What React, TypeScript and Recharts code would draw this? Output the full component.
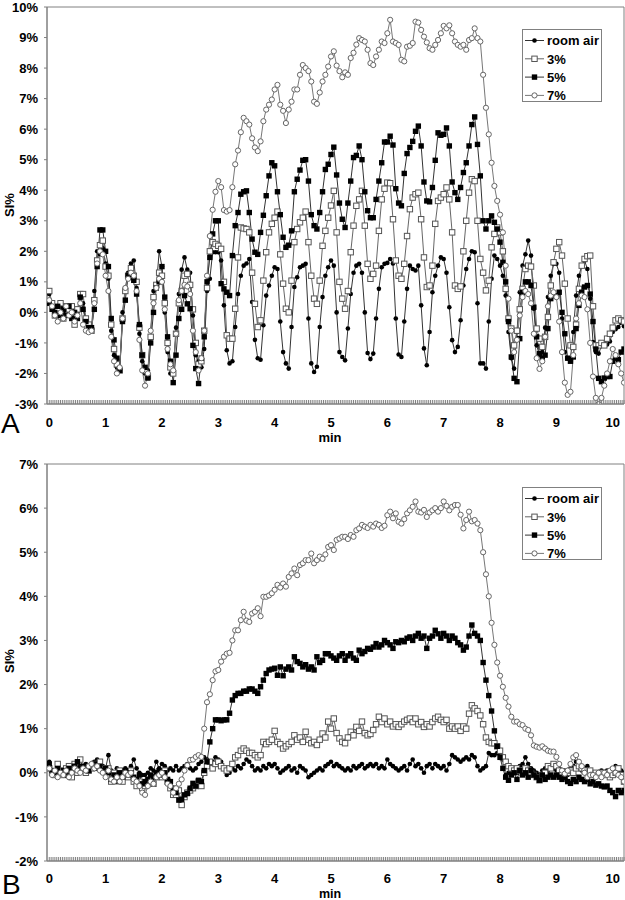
import React from 'react';
import { LineChart, Line, XAxis, YAxis, ReferenceArea } from 'recharts';

// one sample every 3 s
const SAMPLE_MIN = 0.05;

const SERIES_NAMES = ['room air', '3%', '5%', '7%'];
const Y_TICKS_A = [-3, -2, -1, 0, 1, 2, 3, 4, 5, 6, 7, 8, 9, 10];
const Y_TICKS_B = [-2, -1, 0, 1, 2, 3, 4, 5, 6, 7];

// panel A, SI% per sample
const A_ROOM_AIR = [
  0.6, 0.2, 0.1, -0.1, 0.2, 0.0, 0.1, -0.1, 0.1, -0.2,
  0.0, 0.5, 0.3, -0.3, -0.4, -0.5, 0.7, 2.0, 1.9, 2.1,
  1.6, 1.1, -0.6, -1.4, -1.8, -1.9, 0.0, 0.8, 1.3, 1.6,
  1.7, 0.8, -0.7, -1.6, -2.0, -1.9, -0.6, 0.7, 0.8, 2.0,
  1.5, 0.0, -1.3, -2.0, -1.9, -0.5, 0.6, 1.4, 1.8, 1.4,
  1.3, -0.1, -1.4, -1.6, -1.8, -1.2, 0.7, 1.1, 1.97, 1.97,
  1.97, 1.7, 0.23, -1.24, -1.67, -1.6, -0.48, 0.6, 1.2, 1.53,
  1.6, 1.75, 0.34, -0.9, -1.5, -1.55, -0.42, 0.55, 0.88, 1.2,
  1.48, 1.42, -0.3, -1.3, -1.67, -1.84, -0.48, 0.83, 1.15, 1.48,
  1.53, 1.59, -0.2, -1.67, -1.95, -1.78, -0.48, 0.5, 1.2, 1.48,
  1.7, 1.53, 0.0, -1.3, -1.46, -1.57, -0.53, 0.6, 1.3, 1.53,
  1.59, 1.3, 0.0, -1.33, -1.53, -1.35, -0.2, 0.77, 1.48, 1.59,
  1.62, 1.75, 1.6, -0.2, -1.38, -1.46, -0.3, 0.77, 1.53, 1.42,
  1.37, 1.53, 0.23, -1.18, -1.73, -0.64, 0.66, 1.2, 1.53, 1.8,
  1.75, 1.3, 0.17, -0.91, -1.3, -1.13, -0.26, 0.88, 1.42, 1.75,
  2.0, 1.97, 0.3, -1.67, -1.67, -1.84, -0.3, 1.1, 1.86, 1.75,
  1.53, 1.2, 0.55, -0.64, -1.5, -1.84, -0.64, 0.66, 1.53, 1.9,
  2.35, 1.86, 0.12, -1.08, -1.4, -1.3, -0.5, 0.5, 1.2, 1.59,
  1.59, 1.3, -0.2, -1.3, -1.5, -1.5, -0.64, 0.55, 1.2, 1.53,
  1.7, 1.42, 0.45, -0.97, -1.3, -1.35, -1.1, -1.0, -1.05, -0.95,
  -0.64, -0.55, -0.48, -0.35, -0.45,
];
const A_O2_3 = [
  0.7, 0.3, -0.1, 0.1, 0.3, -0.2, 0.2, 0.1, 0.2, -0.4,
  0.1, 0.6, 0.6, -0.2, -0.4, -0.6, 0.4, 1.7, 2.2, 2.35,
  1.5, 1.2, -0.4, -1.2, -1.7, -1.9, -0.2, 0.7, 1.2, 1.45,
  1.2, 1.0, -0.5, -1.4, -1.9, -2.1, -0.8, 0.5, 0.9, 1.3,
  1.2, 0.3, -1.0, -1.8, -2.0, -0.7, 0.3, 0.7, 1.2, 1.26,
  0.9, 0.1, -1.0, -1.7, -1.6, -0.6, 0.8, 2.0, 2.3, 2.24,
  2.18, 2.08, 1.0, -0.75, -0.86, -0.86, 0.12, 1.8, 2.78, 2.75,
  2.73, 2.62, 1.3, 0.28, -0.48, -0.26, 1.04, 1.97, 2.62, 2.9,
  3.1, 3.3, 1.9, 0.94, 0.12, 0.0, 1.04, 2.3, 2.73, 2.95,
  3.1, 3.3, 2.3, 1.2, 0.45, 0.28, 1.04, 2.18, 2.67, 3.1,
  3.5, 3.98, 2.62, 1.0, 0.45, 0.12, 0.7, 1.97, 2.84, 3.49,
  3.7, 3.98, 2.84, 1.59, 1.1, 1.26, 1.53, 2.67, 3.7, 4.05,
  4.25, 4.23, 3.05, 1.7, 1.2, 1.1, 1.59, 2.5, 3.38, 3.76,
  3.87, 3.92, 3.05, 1.8, 0.83, 0.88, 1.53, 2.9, 3.65, 3.76,
  3.87, 4.09, 3.7, 2.62, 0.88, 0.77, 0.85, 2.0, 3.0, 3.92,
  4.36, 4.3, 3.0, 1.75, 1.3, 0.72, 1.04, 2.13, 2.57, 2.78,
  2.62, 2.0, 0.77, -0.2, -0.53, -1.08, -0.6, 0.1, 0.77, 1.42,
  1.53, 1.5, 0.88, -0.53, -0.86, -1.13, -0.8, -0.15, 0.88, 1.64,
  2.08, 2.3, 1.86, 0.94, -0.2, -1.08, -1.13, -0.4, 0.77, 1.53,
  1.75, 1.84, 1.86, 0.2, -1.08, -1.08, -1.0, -1.08, -0.86, -0.7,
  -0.5, -0.26, -0.2, -0.26, -0.3,
];
const A_O2_5 = [
  0.3, 0.1, 0.0, 0.2, -0.1, 0.1, -0.1, 0.2, -0.2, 0.0,
  -0.2, 0.5, 0.1, -0.3, -0.5, -0.5, 0.1, 1.5, 2.7, 2.7,
  2.0, 1.5, -0.2, -0.9, -1.5, -1.9, -0.3, 0.4, 1.2, 1.15,
  1.05, 0.6, -0.4, -1.4, -1.8, -2.15, -1.0, 0.0, 0.8, 1.0,
  1.5, 0.5, -0.8, -1.6, -2.3, -1.4, -0.2, 0.1, 0.55, 0.28,
  0.12, -1.08, -1.84, -2.33, -1.5, -0.8, 1.0, 1.8, 2.57, 3.0,
  3.0, 0.94, 0.77, 0.66, 0.55, 1.86, 2.84, 3.27, 3.87, 3.95,
  3.98, 3.27, 2.4, 1.97, 1.9, 2.62, 3.18, 3.82, 4.47, 4.9,
  4.8, 3.95, 3.2, 2.46, 2.13, 2.2, 2.67, 3.95, 4.36, 4.66,
  4.98, 5.0, 4.3, 3.2, 2.84, 2.73, 3.27, 3.95, 4.68, 4.85,
  5.17, 5.41, 4.5, 3.58, 3.05, 2.78, 3.58, 4.3, 5.07, 5.14,
  5.45, 5.0, 3.95, 3.33, 3.1, 3.1, 3.7, 4.3, 4.9, 5.58,
  5.58, 5.77, 5.48, 4.05, 3.58, 3.49, 4.55, 5.2, 5.4, 5.6,
  5.93, 6.1, 5.45, 4.27, 3.65, 3.62, 4.09, 4.98, 5.88, 5.8,
  5.83, 6.04, 5.45, 4.27, 3.92, 3.7, 4.09, 4.58, 4.9, 5.45,
  6.15, 6.4, 5.5, 4.47, 3.0, 2.73, 3.0, 3.16, 2.95, 2.73,
  2.3, 1.64, 1.0, -0.3, -1.46, -2.16, -2.27, -0.86, 0.66, 1.0,
  1.0, 0.88, 0.17, -0.8, -1.35, -1.5, -1.4, -0.53, 0.45, 0.55,
  0.55, 0.66, 0.0, -0.7, -1.5, -1.6, -1.46, -0.53, 0.23, 0.66,
  0.83, 0.88, 0.6, -0.3, -1.2, -2.16, -2.27, -2.15, -2.1, -2.1,
  -1.6, -1.5, -1.55, -1.3, -1.2,
];
const A_O2_7 = [
  0.4, 0.2, -0.1, -0.3, 0.0, -0.2, 0.2, -0.1, 0.0, -0.3,
  -0.1, 0.3, -0.4, -0.6, -0.65, -0.6, 0.3, 1.6, 2.0, 1.9,
  1.2, 0.7, -0.8, -1.6, -2.0, -1.8, -0.2, 0.8, 1.1, 1.3,
  1.2, 0.7, -0.9, -1.9, -2.4, -2.0, -0.6, 0.3, 0.8, 1.1,
  1.0, 0.1, -1.2, -1.7, -1.9, -0.7, 0.4, 0.7, 0.9, 0.85,
  0.6, -0.6, -1.3, -1.9, -1.5, -0.6, 1.2, 2.5, 3.36, 3.95,
  4.3, 4.1, 3.35, 3.3, 3.35, 4.1, 4.85, 5.3, 5.9, 6.37,
  6.26, 6.15, 5.7, 5.4, 5.28, 5.6, 6.26, 6.64, 6.8, 6.97,
  7.3, 7.45, 6.8, 6.6, 6.2, 6.64, 6.9, 7.3, 7.3, 7.78,
  8.1, 8.0, 7.9, 7.56, 6.9, 6.83, 7.2, 7.56, 7.78, 8.05,
  8.38, 8.55, 8.08, 7.9, 7.7, 7.86, 7.78, 8.33, 8.5, 8.77,
  8.98, 8.92, 8.87, 8.6, 8.16, 8.1, 8.38, 8.6, 8.87, 8.82,
  9.14, 9.58, 8.87, 8.82, 8.76, 8.27, 8.22, 8.7, 8.73, 8.82,
  9.52, 9.49, 9.25, 9.03, 8.84, 8.65, 8.6, 8.76, 8.92, 9.14,
  9.38, 9.3, 9.4, 9.14, 8.87, 8.76, 8.7, 8.76, 8.6, 8.92,
  8.98, 9.3, 8.98, 8.87, 7.78, 6.7, 5.83, 4.9, 4.14, 3.65,
  3.2, 2.62, 1.53, 0.45, -0.6, -1.3, -0.9, -0.1, 0.5, 0.7,
  0.6, 0.3, -0.7, -1.5, -1.85, -1.6, -0.8, 0.2, 0.55, 0.66,
  0.5, -0.3, -1.3, -2.3, -2.7, -2.6, -1.4, -0.2, 0.3, 0.55,
  0.5, 0.1, -1.0, -2.1, -2.8, -3.0, -2.8, -2.4, -2.0, -1.6,
  -1.2, -1.4, -1.7, -2.0, -2.3,
];

// panel B
const B_ROOM_AIR = [
  0.25, 0.05, 0.0, 0.1, 0.05, 0.0, 0.1, 0.05, 0.15, 0.1,
  0.05, 0.15, 0.1, 0.2, 0.1, 0.15, 0.25, 0.3, 0.2, 0.15,
  0.1, 0.4, 0.05, 0.0, 0.1, -0.05, 0.05, 0.1, 0.0, 0.15,
  0.3, 0.1, 0.0, -0.05, -0.05, 0.0, 0.1, 0.05, 0.25, 0.1,
  0.2, 0.15, 0.05, 0.1, 0.05, 0.15, 0.05, 0.1, 0.15, 0.2,
  0.1, 0.05, 0.1, 0.2, 0.25, 0.35, 0.3, 0.2, 0.25, 0.35,
  0.3, 0.25, 0.1, -0.05, 0.0, 0.1, 0.05, 0.15, 0.1, 0.2,
  0.3, 0.25, 0.15, 0.05, 0.1, 0.05, 0.15, 0.1, 0.2, 0.15,
  0.2, 0.1, 0.0, 0.05, 0.1, 0.15, 0.05, 0.1, 0.0, 0.15,
  0.1, 0.05, -0.1, -0.05, 0.0, 0.05, 0.1, 0.05, 0.15, 0.2,
  0.25, 0.15, 0.2, 0.15, 0.1, 0.05, 0.1, 0.05, 0.15, 0.1,
  0.15, 0.2, 0.1, 0.15, 0.2, 0.15, 0.2, 0.1, 0.15, 0.1,
  0.3, 0.2, 0.15, 0.1, 0.05, 0.1, 0.15, 0.05, 0.2, 0.3,
  0.15, 0.2, 0.1, 0.0, 0.15, 0.2, 0.1, 0.2, 0.15, 0.1,
  0.15, 0.05, 0.2, 0.4, 0.35, 0.3, 0.25, 0.3, 0.35, 0.3,
  0.4, 0.35, 0.15, 0.05, 0.1, 0.15, 0.45, 0.4, 0.4, 0.45,
  0.4, 0.3, -0.05, 0.0, 0.05, 0.1, 0.0, 0.15, 0.2, 0.35,
  0.2, 0.1, 0.05, 0.0, -0.05, 0.05, 0.1, 0.05, 0.15, 0.1,
  0.05, 0.1, 0.0, 0.05, -0.05, 0.1, 0.15, 0.25, 0.1, 0.05,
  0.1, 0.15, 0.05, -0.05, 0.0, -0.05, 0.05, 0.0, 0.05, -0.05,
  0.1, 0.15, 0.0, 0.05, 0.0,
];
const B_O2_3 = [
  0.1, 0.0, -0.05, 0.2, 0.05, -0.05, 0.1, 0.15, -0.1, 0.2,
  0.0, 0.3, 0.1, 0.0, 0.05, 0.1, 0.2, 0.15, 0.25, 0.1,
  0.05, 0.1, -0.2, 0.0, -0.15, 0.05, -0.2, 0.0, -0.1, 0.05,
  -0.2, -0.3, -0.2, -0.35, -0.3, -0.2, -0.15, -0.25, -0.1, 0.0,
  -0.1, 0.05, -0.2, -0.35, -0.5, -0.5, -0.4, -0.73, -0.55, -0.45,
  -0.4, -0.35, -0.3, -0.2, -0.3, 0.0, 0.15, 0.25, 0.1, 0.2,
  0.25, 0.15, 0.1, 0.05, 0.1, 0.2, 0.35, 0.4, 0.5, 0.55,
  0.5, 0.45, 0.45, 0.4, 0.35, 0.4, 0.7, 0.65, 0.7, 0.75,
  0.95, 0.7, 0.65, 0.55, 0.6, 0.65, 0.7, 0.85, 0.75, 0.8,
  0.7, 0.93, 0.75, 0.67, 0.7, 0.63, 0.75, 0.89, 0.8, 1.16,
  1.0, 1.23, 0.9, 0.78, 0.7, 0.67, 0.8, 0.93, 0.85, 1.04,
  0.95, 1.16, 0.9, 0.85, 0.88, 0.97, 1.1, 1.27, 1.15, 1.23,
  1.1, 1.16, 1.05, 1.1, 1.04, 1.1, 1.16, 1.2, 1.23, 1.15,
  1.23, 1.1, 1.15, 1.04, 1.1, 1.05, 1.15, 1.23, 1.27, 1.2,
  1.15, 1.2, 1.0, 1.05, 1.0, 1.05, 0.95, 1.05, 1.0, 1.34,
  1.53, 1.46, 1.4, 1.3, 1.1, 0.8, 0.7, 0.67, 0.67, 0.6,
  0.5, 0.35, 0.25, 0.15, 0.1, 0.05, 0.1, 0.05, 0.0, 0.1,
  0.05, 0.0, -0.05, -0.1, -0.17, -0.05, 0.0, 0.15, 0.1, 0.2,
  0.15, 0.05, -0.05, -0.1, 0.0, 0.05, 0.0, 0.1, 0.15, 0.1,
  0.05, 0.0, 0.05, -0.05, 0.0, -0.05, 0.0, -0.05, 0.0, -0.1,
  -0.05, 0.0, 0.1, -0.05, -0.2,
];
const B_O2_5 = [
  0.2, 0.05, 0.0, 0.1, 0.0, 0.05, -0.05, 0.1, 0.05, 0.15,
  0.25, 0.1, 0.15, 0.1, 0.05, 0.15, 0.2, 0.1, 0.15, 0.05,
  0.1, 0.0, -0.15, -0.05, -0.2, 0.0, -0.1, 0.05, -0.05, 0.0,
  -0.1, -0.15, -0.05, -0.25, -0.2, -0.15, -0.05, -0.1, 0.0, 0.05,
  -0.05, 0.0, -0.15, -0.2, -0.35, -0.45, -0.62, -0.6, -0.5, -0.47,
  -0.35, -0.24, -0.3, -0.17, -0.2, 0.05, 0.25, 0.7, 1.0, 1.2,
  1.2, 1.18, 1.2, 1.2, 1.35, 1.65, 1.75, 1.8, 1.8, 1.85,
  1.85, 1.9, 1.9, 1.85, 1.8, 1.95, 2.1, 2.25, 2.33, 2.35,
  2.37, 2.21, 2.4, 2.2, 2.35, 2.4, 2.33, 2.63, 2.52, 2.48,
  2.4, 2.45, 2.35, 2.4, 2.33, 2.63, 2.5, 2.55, 2.7, 2.7,
  2.65, 2.6, 2.55, 2.65, 2.7, 2.55, 2.65, 2.7, 2.6, 2.55,
  2.78, 2.7, 2.75, 2.82, 2.8, 2.85, 2.93, 2.85, 2.9, 3.0,
  2.95, 2.9, 2.82, 2.97, 2.95, 3.0, 2.97, 3.05, 3.08, 3.0,
  3.1, 3.16, 3.05, 3.1, 2.82, 3.05, 3.1, 3.23, 3.15, 3.05,
  3.16, 3.1, 3.0, 3.1, 3.05, 2.95, 2.9, 2.78, 2.85, 3.1,
  3.35, 3.16, 3.1, 3.0, 2.5, 2.1, 1.75, 1.4, 0.95, 0.6,
  0.35, 0.1, -0.1, -0.17, -0.05, 0.0, -0.15, 0.05, -0.05, 0.0,
  -0.1, 0.05, -0.05, -0.1, -0.17, -0.05, -0.15, -0.1, -0.05, -0.1,
  -0.05, -0.1, -0.15, -0.1, -0.2, -0.24, -0.15, -0.2, -0.1, -0.15,
  -0.2, -0.15, -0.25, -0.2, -0.28, -0.25, -0.3, -0.32, -0.3, -0.4,
  -0.45, -0.54, -0.4, -0.45, -0.4,
];
const B_O2_7 = [
  0.1, -0.05, 0.05, -0.1, 0.0, -0.05, 0.05, -0.1, 0.0, 0.1,
  0.05, 0.0, 0.1, 0.05, 0.15, 0.2, 0.1, 0.15, 0.05, 0.0,
  -0.1, 0.05, -0.15, -0.2, -0.1, -0.2, -0.1, 0.0, -0.05, 0.0,
  -0.15, -0.2, -0.3, -0.45, -0.5, -0.3, -0.2, -0.25, -0.1, -0.05,
  0.0, -0.1, -0.25, -0.3, -0.45, -0.35, -0.25, -0.15, 0.05, 0.17,
  0.29, 0.3, 0.36, 0.4, 0.36, 1.0, 1.6, 1.78, 2.1, 2.3,
  2.33, 2.52, 2.63, 2.7, 2.72, 3.0, 3.23, 3.23, 3.46, 3.65,
  3.45, 3.42, 3.61, 3.65, 3.73, 3.55, 3.99, 3.99, 4.02, 4.07,
  4.15, 4.26, 4.2, 4.29, 4.22, 4.44, 4.52, 4.63, 4.48, 4.71,
  4.75, 4.82, 4.82, 4.97, 4.75, 4.82, 4.9, 4.85, 4.95, 5.12,
  5.16, 5.05, 5.28, 5.31, 5.35, 5.35, 5.3, 5.39, 5.35, 5.5,
  5.54, 5.62, 5.58, 5.55, 5.62, 5.58, 5.65, 5.62, 5.55, 5.6,
  5.84, 5.92, 5.77, 5.88, 5.69, 5.65, 5.75, 5.88, 5.95, 6.03,
  6.15, 5.92, 5.9, 5.96, 5.8, 5.9, 5.95, 6.0, 5.92, 6.0,
  6.15, 6.05, 5.95, 6.03, 6.07, 6.07, 5.85, 5.54, 5.73, 5.92,
  5.7, 5.73, 5.65, 5.5, 5.0, 4.5, 4.0, 3.4, 2.9, 2.5,
  2.2, 1.95, 1.7, 1.5, 1.27, 1.16, 1.16, 1.1, 1.08, 1.0,
  0.97, 0.85, 0.62, 0.59, 0.57, 0.6, 0.55, 0.5, 0.48, 0.48,
  0.36, 0.2, 0.05, -0.02, 0.05, 0.2, 0.35, 0.4, 0.25, 0.15,
  0.0, -0.1, -0.05, -0.05, -0.1, 0.0, -0.1, 0.0, -0.05, 0.05,
  0.1, 0.0, -0.05, -0.1, -0.2,
];

const FONT = '"Liberation Sans", Arial, Helvetica, sans-serif';
const FRAME = '#808080';
const X_MIN = -0.04;
const X_MAX = 10.2;
// comb of small ticks along the time axis, 2 s apart
const X_TICKS = Array.from({ length: 307 }, (_, i) => i / 30);

const dotRoomAir = (p: any) =>
  p.cx == null ? null : <circle key={`ra${p.index}`} cx={p.cx} cy={p.cy} r={2.3} fill="#000" />;
const dotOpenSquare = (p: any) =>
  p.cx == null ? null : (
    <rect key={`o3${p.index}`} x={p.cx - 2.7} y={p.cy - 2.7} width={5.4} height={5.4} fill="#fff" stroke="#555" strokeWidth={1} />
  );
const dotSquare = (p: any) =>
  p.cx == null ? null : <rect key={`o5${p.index}`} x={p.cx - 2.7} y={p.cy - 2.7} width={5.4} height={5.4} fill="#000" />;
const dotOpenCircle = (p: any) =>
  p.cx == null ? null : (
    <circle key={`o7${p.index}`} cx={p.cx} cy={p.cy} r={2.6} fill="#fff" stroke="#666" strokeWidth={1} />
  );

const STYLES = [
  { key: 's0', stroke: '#333', dot: dotRoomAir },
  { key: 's1', stroke: '#666', dot: dotOpenSquare },
  { key: 's2', stroke: '#333', dot: dotSquare },
  { key: 's3', stroke: '#777', dot: dotOpenCircle },
];

function makeRows(cols: number[][]) {
  return cols[0].map((_, i) => ({
    t: Math.round(i * SAMPLE_MIN * 100) / 100,
    s0: cols[0][i],
    s1: cols[1][i],
    s2: cols[2][i],
    s3: cols[3][i],
  }));
}

const ROWS_A = makeRows([A_ROOM_AIR, A_O2_3, A_O2_5, A_O2_7]);
const ROWS_B = makeRows([B_ROOM_AIR, B_O2_3, B_O2_5, B_O2_7]);

function MinuteTick(props: any) {
  const { x, y, payload, labelOffset } = props;
  const v = payload.value as number;
  const whole = Math.abs(v - Math.round(v)) < 1e-6;
  return (
    <g>
      <line x1={x} x2={x} y1={y} y2={y - 4} stroke={FRAME} strokeWidth={1} />
      {whole && (
        <text x={x} y={y + labelOffset} textAnchor="middle" fontFamily={FONT} fontSize={13} fontWeight={700} fill="#000">
          {Math.round(v)}
        </text>
      )}
    </g>
  );
}

function LegendBox({ left, top }: { left: number; top: number }) {
  return (
    <svg width={80} height={73} style={{ position: 'absolute', left, top, display: 'block' }}>
      <rect x={0.5} y={0.5} width={79} height={72} fill="#fff" stroke={FRAME} />
      {STYLES.map((s, i) => {
        const cy = 11.5 + i * 18.3;
        return (
          <g key={s.key}>
            <line x1={3} x2={22} y1={cy} y2={cy} stroke={s.stroke} />
            {s.dot({ cx: 12.5, cy, index: `lg${i}` })}
            <text x={25} y={cy + 4.7} fontFamily={FONT} fontSize={13} fontWeight={700} fill="#000">
              {SERIES_NAMES[i]}
            </text>
          </g>
        );
      })}
    </svg>
  );
}

interface PanelProps {
  rows: ReturnType<typeof makeRows>;
  yTicks: number[];
  top: number;
  marginTop: number;
  xAxisHeight: number;
  legendTop: number;
  labelOffset: number;
}

function Panel({ rows, yTicks, top, marginTop, xAxisHeight, legendTop, labelOffset }: PanelProps) {
  const yMin = yTicks[0];
  const yMax = yTicks[yTicks.length - 1];
  return (
    <div style={{ position: 'absolute', left: 0, top, width: 625, height: 450 }}>
      <LineChart width={625} height={450} data={rows} margin={{ top: marginTop, right: 1, bottom: 0, left: 0 }}>
        <XAxis
          type="number"
          dataKey="t"
          domain={[X_MIN, X_MAX]}
          ticks={X_TICKS}
          interval={0}
          tick={<MinuteTick labelOffset={labelOffset} />}
          tickLine={false}
          tickSize={0}
          tickMargin={0}
          axisLine={{ stroke: FRAME }}
          height={xAxisHeight}
          allowDataOverflow
        />
        <YAxis
          type="number"
          domain={[yMin, yMax]}
          ticks={yTicks}
          interval={0}
          tickFormatter={(v: number) => `${v}%`}
          tick={{ fill: '#000', fontSize: 13, fontWeight: 700, fontFamily: FONT }}
          tickLine={{ stroke: FRAME }}
          tickSize={3}
          tickMargin={6}
          axisLine={{ stroke: FRAME }}
          width={47}
          allowDataOverflow
        />
        <ReferenceArea x1={X_MIN} x2={X_MAX} y1={yMin} y2={yMax} fill="none" stroke={FRAME} strokeWidth={1} />
        {STYLES.map((s) => (
          <Line
            key={s.key}
            type="linear"
            dataKey={s.key}
            stroke={s.stroke}
            strokeWidth={1}
            dot={s.dot}
            activeDot={false}
            isAnimationActive={false}
          />
        ))}
      </LineChart>
      <LegendBox left={522} top={legendTop} />
    </div>
  );
}

export default function App() {
  return (
    <div style={{ position: 'absolute', left: 0, top: 0, width: 625, height: 900, background: '#fff' }}>
      <Panel rows={ROWS_A} yTicks={Y_TICKS_A} top={0} marginTop={7} xAxisHeight={46} legendTop={29} labelOffset={23} />
      <Panel rows={ROWS_B} yTicks={Y_TICKS_B} top={450} marginTop={14} xAxisHeight={39} legendTop={37} labelOffset={22} />
      <svg width={625} height={900} style={{ position: 'absolute', left: 0, top: 0, pointerEvents: 'none' }}>
        <text transform="translate(14,205) rotate(-90)" textAnchor="middle" fontFamily={FONT} fontSize={13} fontWeight={700}>
          SI%
        </text>
        <text transform="translate(14,661) rotate(-90)" textAnchor="middle" fontFamily={FONT} fontSize={13} fontWeight={700}>
          SI%
        </text>
        <text x={330} y={442} textAnchor="middle" fontFamily={FONT} fontSize={13} fontWeight={700}>
          min
        </text>
        <text x={330} y={897.5} textAnchor="middle" fontFamily={FONT} fontSize={12.5} fontWeight={700}>
          min
        </text>
        <text x={1} y={433} fontFamily={FONT} fontSize={28}>
          A
        </text>
        <text x={2} y={894} fontFamily={FONT} fontSize={28}>
          B
        </text>
      </svg>
    </div>
  );
}
